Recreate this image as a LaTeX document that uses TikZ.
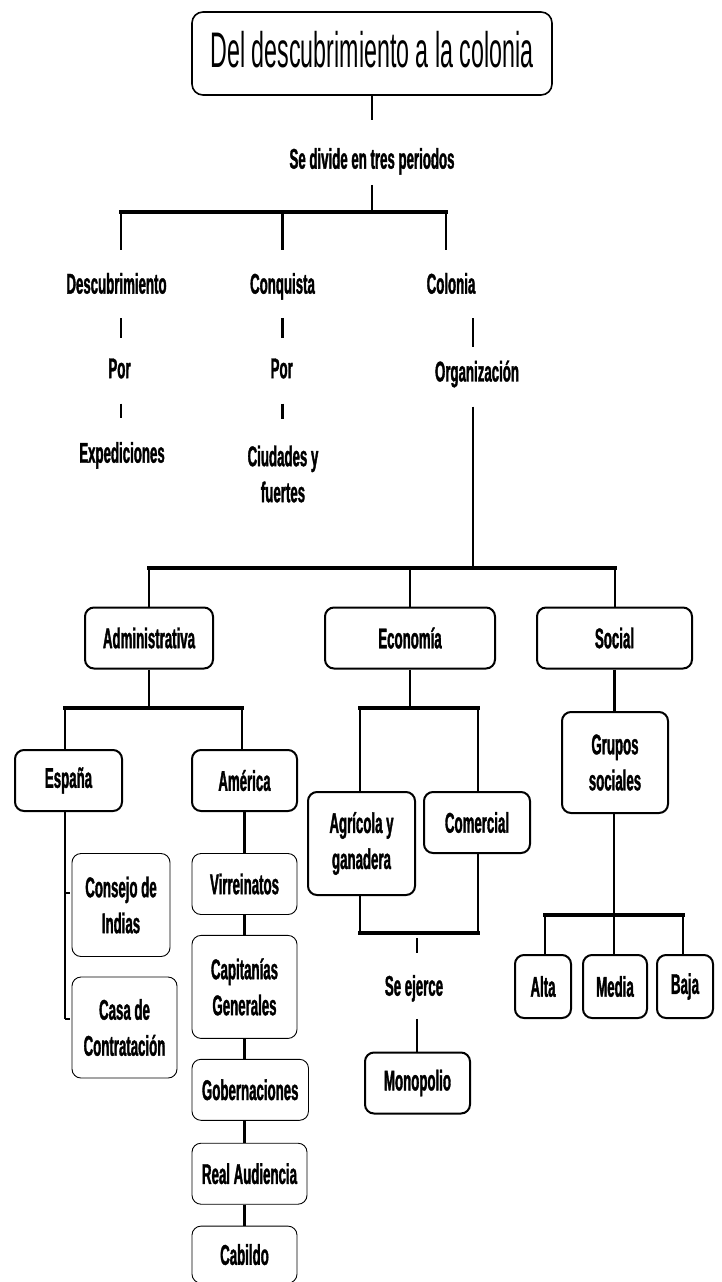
\documentclass[tikz,border=0pt]{standalone}
\usepackage{fontspec}
\setmainfont{Liberation Sans}[FakeStretch=0.465, BoldFeatures={FakeBold=1.2}]
\usepackage{tikz}
\usetikzlibrary{positioning}
\tikzstyle{plainText} = [inner sep=0pt, align=center]
\tikzstyle{roundBox} = [draw, rectangle, rounded corners=9pt, align=center,
   inner xsep=10pt, inner ysep=0pt,
   minimum width=105pt, minimum height=61pt]
\tikzstyle{boldBox} = [roundBox, line width=2pt]
\tikzstyle{thinBox} = [roundBox, line width=0.9pt]
\tikzstyle{tallBox} = [minimum height=103pt]
\tikzstyle{titleBox} = [roundBox, line width=1.6pt, rounded corners=11pt,
   minimum width=360pt, minimum height=83pt, text depth=8pt,
   font=\fontsize{50}{58}\selectfont\mdseries]
\tikzstyle{linkLine} = [line width=2.4pt]
\tikzstyle{barLine} = [line width=4.5pt, line cap=rect]

\begin{document}
\begin{tikzpicture}[
  x=1pt, y=-1pt,
  font=\fontsize{28.5}{36}\selectfont\bfseries,
  ]
  \fill[white] (0,0) rectangle (721,1282);
  \useasboundingbox (0,0) rectangle (721,1282);

  \node[titleBox] (title) at (372,53.5) {Del descubrimiento a la colonia};
  \node[plainText] (divide) at (372,161.3) {Se divide en tres periodos};
  \coordinate (barTop) at (372,212);
  \coordinate (barA) at (121,212);
  \coordinate (barB) at (446,212);

  \node[plainText] (descub) at (116.5,283.4) {Descubrimiento};
  \node[plainText] (conq) at (282.5,286.3) {Conquista};
  \node[plainText] (colonia) at (451,283.4) {Colonia};
  \node[plainText] (porA) at (119.5,368.5) {Por};
  \node[plainText] (porB) at (281.7,368.5) {Por};
  \node[plainText] (organ) at (477,374) {Organización};
  \node[plainText] (exped) at (122,455.3) {Expediciones};
  \node[plainText] (ciudad) at (283,474) {Ciudades y\\fuertes};

  \draw[linkLine, shorten >=28pt] (title.south) -- (divide.north);
  \draw[linkLine, shorten <=10pt] (divide.south) -- (barTop);
  \draw[barLine] (barA) -- (barB);
  \draw[linkLine, shorten >=23pt] (barA) -- (barA |- descub.north);
  \draw[linkLine, shorten >=23pt] (barA -| conq.north) -- (conq.north);
  \draw[linkLine, shorten >=23pt] (barB) -- (barB |- colonia.north);
  \draw[linkLine, shorten <=24pt, shorten >=20pt] (barA |- descub.south) -- (barA |- porA.north);
  \draw[linkLine, shorten <=25pt, shorten >=24pt] (barA |- porA.south) -- (barA |- exped.north);
  \draw[linkLine, shorten <=18pt, shorten >=20pt] (conq.south) -- (conq.south |- porB.north);
  \draw[linkLine, shorten <=25pt, shorten >=26pt] (conq.south |- porB.south) -- (conq.south |- ciudad.north);

  \coordinate (orgBar) at (473,568);
  \coordinate (barC) at (149,568);
  \coordinate (barD) at (615,568);
  \draw[linkLine, shorten <=24pt, shorten >=13pt] (colonia.south -| orgBar) -- (organ.north -| orgBar);
  \draw[linkLine, shorten <=19pt] (organ.south -| orgBar) -- (orgBar);
  \draw[barLine] (barC) -- (barD);

  \node[boldBox, minimum width=128pt] (admin) at (149,638) {Administrativa};
  \node[boldBox, minimum width=170pt] (econ) at (410,638) {Economía};
  \node[boldBox, minimum width=155pt] (social) at (614.5,638) {Social};
  \draw[linkLine] (barC) -- (admin.north);
  \draw[linkLine] (barC -| econ.north) -- (econ.north);
  \draw[linkLine] (barD) -- (barD |- social.north);

  \node[boldBox, minimum width=107pt] (espana) at (68.5,780.5) {España};
  \node[boldBox] (america) at (244.5,780.5) {América};
  \coordinate (admL) at (65,708);
  \coordinate (admR) at (242,708);
  \draw[linkLine] (admin.south) -- (admin.south |- admL);
  \draw[barLine] (admL) -- (admR);
  \draw[linkLine] (admL) -- (admL |- espana.north);
  \draw[linkLine] (admR) -- (admR |- america.north);

  \node[thinBox, tallBox, minimum width=98pt] (consejo) at (121,905) {Consejo de\\Indias};
  \node[thinBox, tallBox, minimum height=101pt] (casa) at (124.5,1027.5) {Casa de\\Contratación};
  \coordinate (espEnd) at (65,1019);
  \draw[linkLine] (admL |- espana.south) -- (espEnd);
  \draw[linkLine] (espEnd) -- ([xshift=-2pt]casa.west |- espEnd);
  \draw[linkLine] ([yshift=12pt]consejo.west -| espEnd) -- ([xshift=-2pt,yshift=12pt]consejo.west);

  \node[thinBox] (virr) at (244.5,884) {Virreinatos};
  \node[thinBox, tallBox, below=20pt of virr.south west, anchor=north west] (capi) {Capitanías\\Generales};
  \node[thinBox, below=20pt of capi.south west, anchor=north west] (gober) {Gobernaciones};
  \node[thinBox, below=22pt of gober.south west, anchor=north west] (real) {Real Audiencia};
  \node[thinBox, minimum height=57pt, below=21pt of real.south west, anchor=north west] (cabildo) {Cabildo};
  \draw[linkLine] (america) -- (virr);
  \draw[linkLine] (virr) -- (capi);
  \draw[linkLine] (america.south |- capi.south) -- (america.south |- gober.north);
  \draw[linkLine] (america.south |- gober.south) -- (america.south |- real.north);
  \draw[linkLine] (america.south |- real.south) -- (america.south |- cabildo.north);

  \node[boldBox, tallBox, minimum width=107pt] (agri) at (361.5,843.5) {Agrícola y\\ganadera};
  \node[boldBox, minimum width=106pt] (comer) at (477,822.5) {Comercial};
  \node[plainText] (ejerce) at (414,988.3) {Se ejerce};
  \node[boldBox] (mono) at (417.5,1083) {Monopolio};
  \coordinate (ecoL) at (360,708);
  \coordinate (ecoR) at (478,708);
  \coordinate (sumL) at (360,933);
  \coordinate (sumR) at (478,933);
  \coordinate (sumM) at (417,933);
  \draw[linkLine] (econ.south) -- (econ.south |- ecoL);
  \draw[barLine] (ecoL) -- (ecoR);
  \draw[linkLine] (ecoL) -- (ecoL |- agri.north);
  \draw[linkLine] (ecoR) -- (ecoR |- comer.north);
  \draw[linkLine] (sumL |- agri.south) -- (sumL);
  \draw[linkLine] (sumR |- comer.south) -- (sumR);
  \draw[barLine] (sumL) -- (sumR);
  \draw[linkLine, shorten <=5pt, shorten >=22pt] (sumM) -- (sumM |- ejerce.north);
  \draw[linkLine, shorten <=17pt] (ejerce.south -| sumM) -- (sumM |- mono.north);

  \node[boldBox, tallBox, minimum width=106pt, minimum height=101pt] (grupos) at (615,762.5) {Grupos\\sociales};
  \node[boldBox, minimum width=56pt, minimum height=63pt] (alta) at (543,986.5) {Alta};
  \node[boldBox, minimum width=64pt, minimum height=63pt] (media) at (615,986.5) {Media};
  \node[boldBox, minimum width=56pt, minimum height=63pt] (baja) at (685,986.5) {Baja};
  \coordinate (grpL) at (545,915);
  \coordinate (grpM) at (614,915);
  \coordinate (grpR) at (683,915);
  \draw[linkLine] (social.south) -- (social.south |- grupos.north);
  \draw[linkLine] (grupos.south -| grpM) -- (grpM);
  \draw[barLine] (grpL) -- (grpR);
  \draw[linkLine] (grpL) -- (grpL |- alta.north);
  \draw[linkLine] (grpM) -- (grpM |- media.north);
  \draw[linkLine] (grpR) -- (grpR |- baja.north);
\end{tikzpicture}
\end{document}
